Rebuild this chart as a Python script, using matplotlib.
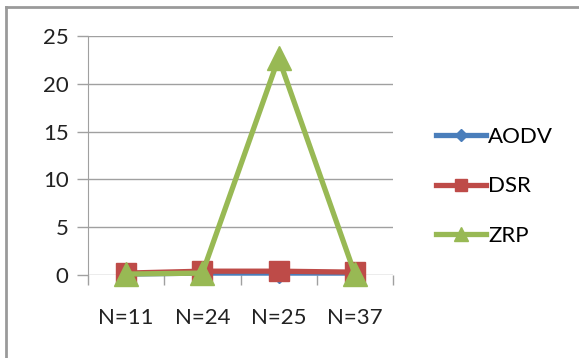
import matplotlib
matplotlib.use("Agg")
import matplotlib.pyplot as plt
from matplotlib.lines import Line2D

plt.rcParams['font.family'] = ['Lato', 'DejaVu Sans']

categories = ["N=11", "N=24", "N=25", "N=37"]
aodv = [0.1, 0.2, 0.2, 0.2]
dsr = [0.2, 0.4, 0.4, 0.3]
zrp = [0.1, 0.2, 22.7, 0.1]
y_ticks = [0, 5, 10, 15, 20, 25]

fig = plt.figure(figsize=(5.79, 3.58), dpi=100)
ax = fig.add_axes([88/579, 1-275/358, (393-88)/579, (275-36)/358])

x = list(range(len(categories)))
ax.plot(x, aodv, color="#4a7ebb", lw=3.8, marker="D", ms=10, label="AODV", zorder=3)
ax.plot(x, dsr, color="#be4b48", lw=3.8, marker="s", ms=15, label="DSR", zorder=4)
ax.plot(x, zrp, color="#98b954", lw=3.8, marker="^", ms=17, label="ZRP", zorder=5)
for ln in ax.get_lines():
    ln.set_clip_on(False)

ax.set_xlim(-0.5, len(categories) - 0.5)
ax.set_ylim(0, 25)
ax.set_yticks(y_ticks)
ax.set_xticks(x)
ax.set_xticklabels(categories)
ax.set_xticks([i - 0.5 for i in range(len(categories) + 1)], minor=True)
ax.tick_params(axis="x", which="major", length=0, pad=24, labelsize=16, colors="#222222")
ax.tick_params(axis="x", which="minor", length=7, color="#a0a0a0", width=1)
ax.tick_params(axis="y", length=8, color="#a0a0a0", width=1, labelsize=16, pad=6, labelcolor="#222222")
ax.grid(axis="y", color="#a0a0a0", lw=1)
ax.set_axisbelow(True)
for side in ("top", "right", "bottom"):
    ax.spines[side].set_visible(False)
ax.spines["left"].set_color("#a0a0a0")

leg = fig.legend(handles=ax.get_lines(), loc="upper left",
                 bbox_to_anchor=(416/579, 1-107/358), frameon=False,
                 fontsize=16, handlelength=2.25, handletextpad=0.1,
                 labelspacing=1.32, markerscale=0.6)

# outer frame
fig.add_artist(Line2D([6/579, 6/579], [0, 1-7/358], color="#9a9a9a", lw=2, transform=fig.transFigure))
fig.add_artist(Line2D([6/579, 1], [1-7/358, 1-7/358], color="#9a9a9a", lw=2, transform=fig.transFigure))

fig.savefig("out.png", dpi=100)
